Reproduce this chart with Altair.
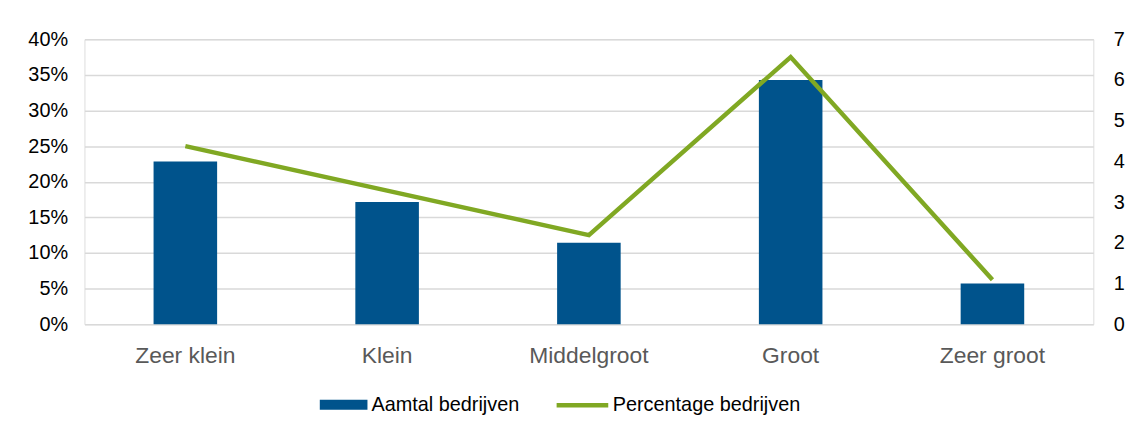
import altair as alt
import pandas as pd

categories = ["Zeer klein", "Klein", "Middelgroot", "Groot", "Zeer groot"]
aantal = [4, 3, 2, 6, 1]
percentage = [0.25, 0.1875, 0.125, 0.375, 0.0625]

BLUE = "#00538C"
GREEN = "#80A823"
FONT = "Liberation Sans"

df = pd.DataFrame({"cat": categories, "aantal": aantal, "pct": percentage})

x = alt.X("cat:N", sort=categories, title=None,
          scale=alt.Scale(paddingInner=0.685, paddingOuter=0.3425),
          axis=alt.Axis(labelAngle=0, ticks=False, domain=False, labelPadding=21,
                        labelFontSize=23, labelColor="#595959", labelFont=FONT, grid=False))

bars = alt.Chart(df).mark_bar().transform_calculate(s1="'Aamtal bedrijven'").encode(
    x=x,
    y=alt.Y("aantal:Q", title=None,
            scale=alt.Scale(domain=[0, 7], nice=False),
            axis=alt.Axis(orient="right", values=list(range(8)), grid=False, ticks=False,
                          domain=False, labelPadding=20, labelFontSize=20, labelColor="#000000",
                          labelFont=FONT)),
    fill=alt.Fill("s1:N", scale=alt.Scale(domain=["Aamtal bedrijven"], range=[BLUE]),
                  legend=alt.Legend(title=None, orient="none", legendX=237, legendY=344,
                                    symbolType="M-1,-0.21H1V0.21H-1Z", symbolSize=2304,
                                    symbolStrokeWidth=0, labelFontSize=20, labelFont=FONT,
                                    labelColor="#000000", labelOffset=4, padding=0,
                                    labelLimit=400)),
)

line = alt.Chart(df).mark_line(strokeWidth=4.5).transform_calculate(s2="'Percentage bedrijven'").encode(
    x=x,
    y=alt.Y("pct:Q", title=None,
            scale=alt.Scale(domain=[0, 0.4], nice=False),
            axis=alt.Axis(orient="left", values=[0, 0.05, 0.1, 0.15, 0.2, 0.25, 0.3, 0.35, 0.4],
                          format=".0%", grid=True, gridColor="#d9d9d9", gridWidth=1.3,
                          ticks=False, domain=False, labelPadding=17, labelFontSize=20,
                          labelColor="#000000", labelFont=FONT)),
    stroke=alt.Stroke("s2:N", scale=alt.Scale(domain=["Percentage bedrijven"], range=[GREEN]),
                      legend=alt.Legend(title=None, orient="none", legendX=473, legendY=340,
                                        symbolType="stroke", symbolSize=2704, symbolStrokeWidth=4.5,
                                        labelFontSize=20, labelFont=FONT, labelColor="#000000",
                                        labelOffset=2, padding=0, labelLimit=400)),
)

chart = alt.layer(bars, line).resolve_scale(y="independent").properties(
    width=1016, height=287, autosize="none",
    padding={"left": 77, "top": 30, "right": 46, "bottom": 100},
).configure_view(stroke=None).configure(background="white")

chart.save("out.html", embed_options={"renderer": "svg", "actions": False})
